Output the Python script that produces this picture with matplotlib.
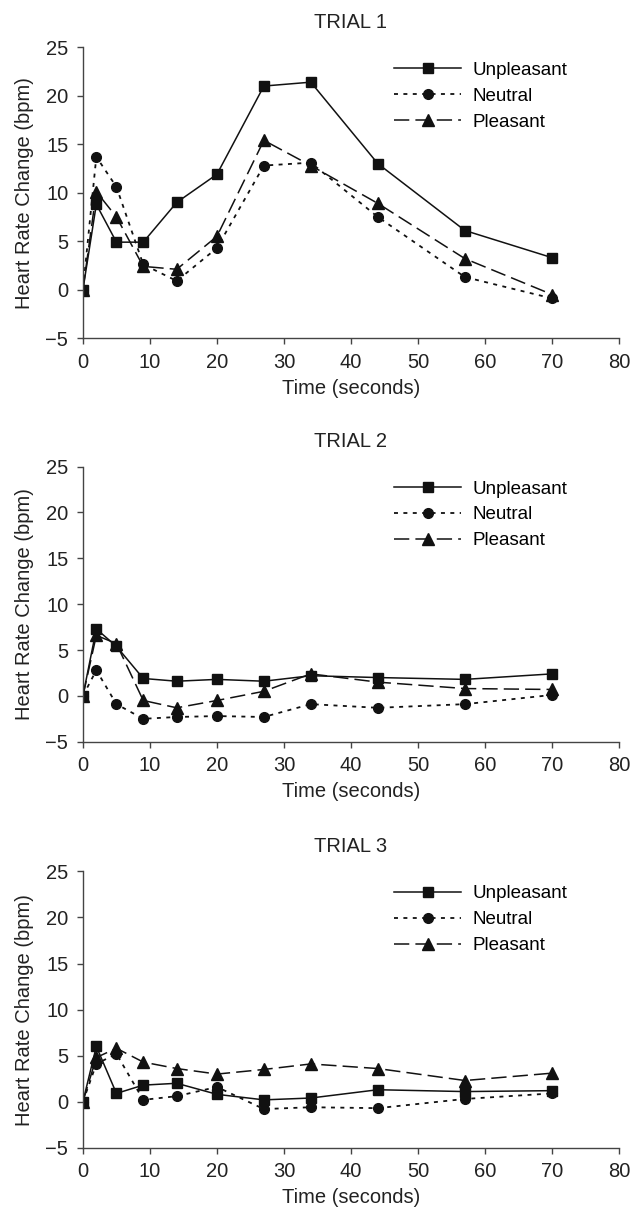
import matplotlib
matplotlib.use('Agg')
import matplotlib.pyplot as plt

plt.rcParams['font.family'] = ['Liberation Sans', 'DejaVu Sans']

time = [0, 2, 5, 9, 14, 20, 27, 34, 44, 57, 70]

trial1_unpleasant = [0, 8.8, 4.9, 4.9, 9.0, 11.9, 21.0, 21.4, 13.0, 6.1, 3.3]
trial1_neutral = [0, 13.7, 10.6, 2.6, 0.9, 4.3, 12.8, 13.1, 7.5, 1.3, -0.9]
trial1_pleasant = [0, 10.1, 7.5, 2.4, 2.1, 5.5, 15.4, 12.8, 8.9, 3.2, -0.5]

trial2_unpleasant = [0, 7.3, 5.4, 1.9, 1.6, 1.8, 1.6, 2.2, 2.0, 1.8, 2.4]
trial2_neutral = [0, 2.8, -0.9, -2.5, -2.3, -2.2, -2.3, -0.9, -1.3, -0.9, 0.1]
trial2_pleasant = [0, 6.6, 5.7, -0.5, -1.3, -0.5, 0.5, 2.4, 1.5, 0.8, 0.7]

trial3_unpleasant = [0, 6.0, 0.9, 1.8, 2.0, 0.8, 0.2, 0.4, 1.3, 1.1, 1.2]
trial3_neutral = [0, 4.1, 5.2, 0.2, 0.6, 1.6, -0.8, -0.6, -0.7, 0.3, 0.9]
trial3_pleasant = [0, 4.8, 5.8, 4.3, 3.6, 3.0, 3.5, 4.1, 3.6, 2.3, 3.1]

trials = [
    ('TRIAL 1', trial1_unpleasant, trial1_neutral, trial1_pleasant),
    ('TRIAL 2', trial2_unpleasant, trial2_neutral, trial2_pleasant),
    ('TRIAL 3', trial3_unpleasant, trial3_neutral, trial3_pleasant),
]

# axes boxes in figure fractions (left, bottom, width, height)
boxes = [
    [0.131, 0.721, 0.847, 0.240],
    [0.131, 0.388, 0.847, 0.227],
    [0.131, 0.053, 0.847, 0.228],
]

fig = plt.figure(figsize=(6.33, 12.12), dpi=100)
col = '#111111'
txt = '#222222'

for (title, unp, neu, ple), box in zip(trials, boxes):
    ax = fig.add_axes(box)
    ax.plot(time, unp, '-', color=col, marker='s', markersize=7, lw=1.1, label='Unpleasant')
    ax.plot(time, neu, color=col, marker='o', markersize=7, lw=1.3,
            linestyle=(0, (2.2, 3)), label='Neutral')
    ax.plot(time, ple, color=col, marker='^', markersize=8.5, lw=1.1,
            linestyle=(0, (10, 4)), label='Pleasant')

    ax.set_xlim(0, 80)
    ax.set_ylim(-5, 25)
    ax.set_xticks(range(0, 81, 10))
    ax.set_yticks(range(-5, 26, 5))
    ax.set_yticklabels(['\u22125', '0', '5', '10', '15', '20', '25'])
    ax.spines['top'].set_visible(False)
    ax.spines['right'].set_visible(False)
    for s in ('left', 'bottom'):
        ax.spines[s].set_color('#444444')
        ax.spines[s].set_linewidth(1.0)
    ax.tick_params(direction='out', length=4.5, width=1, colors='#444444',
                   labelcolor=txt, labelsize=14.5, pad=6)
    ax.set_title(title, fontsize=14.5, color=txt, pad=14)
    ax.set_xlabel('Time (seconds)', fontsize=14.5, color=txt, labelpad=5)
    ax.set_ylabel('Heart Rate Change (bpm)', fontsize=14.5, color=txt, labelpad=8)
    ax.legend(loc='upper left', frameon=False, fontsize=13.5, handlelength=3.6,
              handletextpad=0.6, numpoints=1, labelspacing=0.47,
              borderpad=0, borderaxespad=0, bbox_to_anchor=(0.58, 0.95))

fig.savefig('out.png', dpi=100)
